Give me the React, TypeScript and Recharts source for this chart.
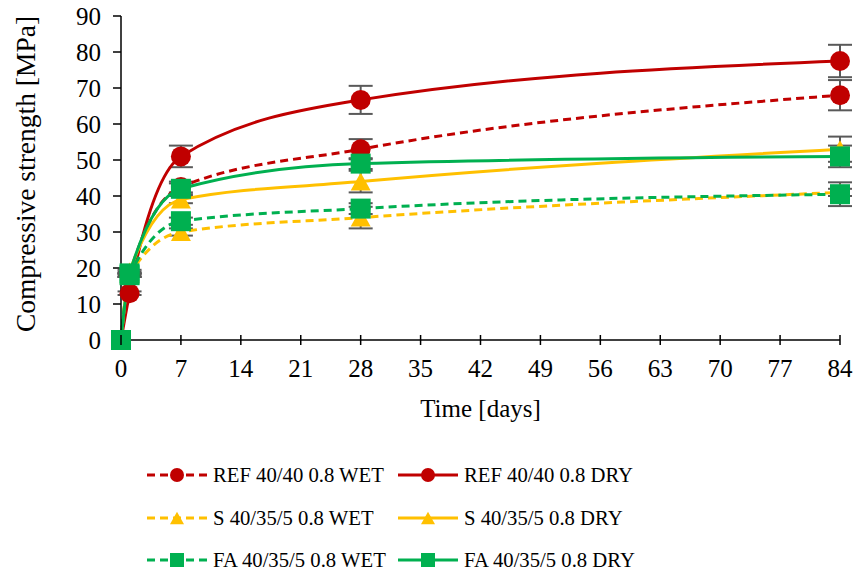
import { LineChart, Line, XAxis, YAxis, ErrorBar, Label } from "recharts";

const days = [0, 1, 7, 28, 84];
const xTicks = [0, 7, 14, 21, 28, 35, 42, 49, 56, 63, 70, 77, 84];
const yTicks = [0, 10, 20, 30, 40, 50, 60, 70, 80, 90];

const refWet = [0, 18, 42.5, 53, 68];
const refWetErr = [0, 0.5, 1.5, 2.8, 4.2];
const refDry = [0, 13, 51, 66.7, 77.5];
const refDryErr = [0, 0.5, 3, 3.9, 4.5];
const sWet = [0, 18, 30, 34, 41];
const sWetErr = [0, 0.5, 1, 3, 1];
const sDry = [0, 19, 39, 44, 53];
const sDryErr = [0, 0.5, 1, 3, 3.5];
const faWet = [0, 18, 33, 36.5, 40.5];
const faWetErr = [0, 0.5, 1, 1.5, 3.3];
const faDry = [0, 18.5, 42, 49, 51];
const faDryErr = [0, 0.5, 1.5, 1.5, 3];

const RED = "#C00000";
const YELLOW = "#FFC000";
const GREEN = "#00B050";
const FONT = "'Liberation Serif', 'Times New Roman', serif";

type Shape = "circle" | "triangle" | "square";

const series = [
  { key: "refWet", name: "REF 40/40 0.8 WET", values: refWet, errors: refWetErr, color: RED, dashed: true, shape: "circle" as Shape },
  { key: "refDry", name: "REF 40/40 0.8 DRY", values: refDry, errors: refDryErr, color: RED, dashed: false, shape: "circle" as Shape },
  { key: "sWet", name: "S 40/35/5 0.8 WET", values: sWet, errors: sWetErr, color: YELLOW, dashed: true, shape: "triangle" as Shape },
  { key: "sDry", name: "S 40/35/5 0.8 DRY", values: sDry, errors: sDryErr, color: YELLOW, dashed: false, shape: "triangle" as Shape },
  { key: "faWet", name: "FA 40/35/5 0.8 WET", values: faWet, errors: faWetErr, color: GREEN, dashed: true, shape: "square" as Shape },
  { key: "faDry", name: "FA 40/35/5 0.8 DRY", values: faDry, errors: faDryErr, color: GREEN, dashed: false, shape: "square" as Shape },
];

const data = days.map((d, i) => {
  const row: Record<string, number> = { day: d };
  series.forEach((s) => {
    row[s.key] = s.values[i];
    row[s.key + "Err"] = s.errors[i];
  });
  return row;
});

function Marker({ cx, cy, shape, color, size }: { cx: number; cy: number; shape: Shape; color: string; size: number }) {
  if (shape === "circle") return <circle cx={cx} cy={cy} r={size / 2} fill={color} />;
  if (shape === "square")
    return <rect x={cx - size / 2} y={cy - size / 2} width={size} height={size} fill={color} />;
  const h = size * 0.9;
  return (
    <polygon
      points={`${cx},${cy - h / 2} ${cx + size / 2},${cy + h / 2} ${cx - size / 2},${cy + h / 2}`}
      fill={color}
    />
  );
}

function XTick({ x, y, payload }: any) {
  return (
    <g>
      <line x1={x} x2={x} y1={y - 5} y2={y + 5} stroke="#000" strokeWidth={1.5} />
      <text x={x} y={y + 37} textAnchor="middle" fontFamily={FONT} fontSize={25} fill="#000">
        {payload.value}
      </text>
    </g>
  );
}

function ChartLegend() {
  const rows = [
    [series[0], series[1]],
    [series[2], series[3]],
    [series[4], series[5]],
  ];
  const rowY = [475, 518, 560];
  const colX = [147, 398];
  return (
    <svg width={856} height={577} style={{ position: "absolute", left: 0, top: 0, pointerEvents: "none" }}>
      {rows.map((row, r) =>
        row.map((s, c) => {
          const x0 = colX[c];
          const y = rowY[r];
          return (
            <g key={s.key}>
              <line
                x1={x0}
                x2={x0 + 60}
                y1={y}
                y2={y}
                stroke={s.color}
                strokeWidth={3}
                strokeDasharray={s.dashed ? "8 5" : undefined}
              />
              <Marker cx={x0 + 30} cy={y} shape={s.shape} color={s.color} size={14} />
              <text x={x0 + 66} y={y + 7} fontFamily={FONT} fontSize={20.7} fill="#000">
                {s.name}
              </text>
            </g>
          );
        })
      )}
    </svg>
  );
}

export default function App() {
  return (
    <div style={{ position: "absolute", left: 0, top: 0, width: 856, height: 577, background: "#fff" }}>
      <LineChart width={856} height={577} data={data} margin={{ top: 16, right: 16, left: 0, bottom: 150 }}>
        <XAxis
          dataKey="day"
          type="number"
          domain={[0, 84]}
          ticks={xTicks}
          interval={0}
          height={87}
          tickSize={0}
          tickMargin={0}
          tickLine={false}
          tick={<XTick />}
          axisLine={{ stroke: "#000", strokeWidth: 1.5 }}
        >
          <Label value="Time [days]" position="insideBottom" offset={10} fontFamily={FONT} fontSize={25} fill="#000" />
        </XAxis>
        <YAxis
          type="number"
          domain={[0, 90]}
          ticks={yTicks}
          interval={0}
          width={121}
          tickSize={8}
          tickMargin={12}
          tick={{ fontFamily: FONT, fontSize: 25, fill: "#000" }}
          tickLine={{ stroke: "#000", strokeWidth: 1.5 }}
          axisLine={{ stroke: "#000", strokeWidth: 1.5 }}
        >
          <Label
            value="Compressive strength [MPa]"
            angle={-90}
            position="insideLeft"
            offset={25}
            dy={-4}
            fontFamily={FONT}
            fontSize={27.5}
            fill="#000"
            style={{ textAnchor: "middle" }}
          />
        </YAxis>
        {/* error bars first so the markers sit on top of them */}
        {series.map((s) => (
          <Line
            key={s.key + "-err"}
            dataKey={s.key}
            type="monotone"
            stroke="none"
            dot={false}
            activeDot={false}
            legendType="none"
            isAnimationActive={false}
          >
            <ErrorBar dataKey={s.key + "Err"} direction="y" width={12} stroke="#595959" strokeWidth={2} />
          </Line>
        ))}
        {series.map((s) => (
          <Line
            key={s.key}
            dataKey={s.key}
            name={s.name}
            type="monotone"
            stroke={s.color}
            strokeWidth={3}
            strokeDasharray={s.dashed ? "8 5" : undefined}
            isAnimationActive={false}
            dot={(p: any) => (
              <Marker key={`${s.key}-${p.index}`} cx={p.cx} cy={p.cy} shape={s.shape} color={s.color} size={20} />
            )}
            activeDot={false}
          />
        ))}
      </LineChart>
      <ChartLegend />
    </div>
  );
}
